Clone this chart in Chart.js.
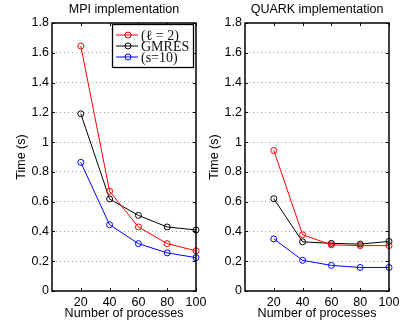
<!DOCTYPE html>
<html>
<head>
<meta charset="utf-8">
<script src="https://cdn.jsdelivr.net/npm/chart.js@4/dist/chart.umd.min.js"></script>
<style>
    body { margin: 0; background: #fff; }
    #wrap { position: relative; width: 406px; height: 326px; background: #fff; overflow: hidden; }
    canvas { position: absolute; top: 0; }
</style>
</head>
<body>
<div id="wrap">
    <canvas id="mpiChart" width="215" height="326" style="left:0px"></canvas>
    <canvas id="quarkChart" width="203" height="326" style="left:203px"></canvas>
</div>
<script>
const processes = [20, 40, 60, 80, 100];
const xTicks = [20, 40, 60, 80, 100];
const yTicks = [0, 0.2, 0.4, 0.6, 0.8, 1, 1.2, 1.4, 1.6, 1.8];
const seriesNames = ['(\u2113 = 2)', 'GMRES', '(s=10)'];
const seriesColors = ['#ff0000', '#000000', '#0000ff'];

const mpiRed = [1.645, 0.67, 0.43, 0.318, 0.27];
const mpiBlack = [1.19, 0.618, 0.508, 0.43, 0.41];
const mpiBlue = [0.864, 0.445, 0.318, 0.256, 0.224];

const quarkRed = [0.944, 0.378, 0.31, 0.305, 0.305];
const quarkBlack = [0.62, 0.33, 0.32, 0.315, 0.333];
const quarkBlue = [0.35, 0.206, 0.172, 0.158, 0.158];

const sans = 'Liberation Sans, Arial, sans-serif';
const serif = 'Liberation Serif, Times New Roman, serif';

function toPoints(vals) {
    return processes.map((p, i) => ({ x: p, y: vals[i] }))
}

// frame, inward ticks, titles, legend
const decorPlugin = {
    id: 'decor',
    afterDraw(chart, args, opts) {
        const ctx = chart.ctx
        const a = chart.chartArea
        const sx = chart.scales.x, sy = chart.scales.y
        ctx.save()
        ctx.strokeStyle = '#000'
        ctx.lineWidth = 1.5
        ctx.strokeRect(a.left, a.top, a.right - a.left, a.bottom - a.top)
        ctx.lineWidth = 1
        ctx.beginPath()
        xTicks.forEach(v => {
            let px = Math.round(sx.getPixelForValue(v)) + 0.5
            ctx.moveTo(px, a.bottom); ctx.lineTo(px, a.bottom - 3)
            ctx.moveTo(px, a.top); ctx.lineTo(px, a.top + 3)
        })
        yTicks.forEach(v => {
            let py = Math.round(sy.getPixelForValue(v)) + 0.5
            ctx.moveTo(a.left, py); ctx.lineTo(a.left + 3, py)
            ctx.moveTo(a.right, py); ctx.lineTo(a.right - 3, py)
        })
        ctx.stroke()

        ctx.fillStyle = '#000'
        ctx.font = '12.5px ' + sans
        ctx.textAlign = 'center'
        ctx.textBaseline = 'middle'
        let cx = (a.left + a.right) / 2
        ctx.fillText(opts.title, cx, 10)
        ctx.fillText('Number of processes', cx, 314)
        ctx.save()
        ctx.translate(a.left - 30, (a.top + a.bottom) / 2)
        ctx.rotate(-Math.PI / 2)
        ctx.fillText('Time (s)', 0, 0)
        ctx.restore()

        if (opts.legend) {
            let lx = a.right - 84, ly = a.top + 1, lw = 81, lh = 43
            ctx.fillStyle = '#fff'
            ctx.fillRect(lx, ly, lw, lh)
            ctx.lineWidth = 1.3
            ctx.strokeStyle = '#000'
            ctx.strokeRect(lx + 0.5, ly + 0.5, lw, lh)
            ctx.lineWidth = 1
            chart.data.datasets.forEach((ds, i) => {
                let y = ly + 11 + i * 11
                ctx.strokeStyle = ds.borderColor
                ctx.beginPath()
                ctx.moveTo(lx + 4, y); ctx.lineTo(lx + 26, y)
                ctx.stroke()
                ctx.beginPath()
                ctx.arc(lx + 16, y, 3, 0, Math.PI * 2)
                ctx.stroke()
                ctx.fillStyle = '#111'
                ctx.textAlign = 'left'
                ctx.font = '14px ' + serif
                ctx.fillText(ds.label, lx + 29, y + 1)
            })
        }
        ctx.restore()
    }
}

function makeChart(id, title, values, leftW, rightPad, legend) {
    return new Chart(document.getElementById(id), {
        type: 'line',
        data: {
            datasets: values.map((v, i) => ({
                label: seriesNames[i],
                data: toPoints(v),
                borderColor: seriesColors[i],
                borderWidth: 1,
                pointRadius: 3,
                pointBorderWidth: 1,
                pointBackgroundColor: 'rgba(0,0,0,0)',
                pointBorderColor: seriesColors[i],
                tension: 0,
                clip: false
            }))
        },
        options: {
            responsive: false,
            devicePixelRatio: 1,
            animation: false,
            layout: { padding: { left: 0, right: rightPad, top: 23, bottom: 0 } },
            plugins: {
                legend: { display: false },
                title: { display: false },
                tooltip: { enabled: false },
                decor: { title: title, legend: legend }
            },
            scales: {
                x: {
                    type: 'linear',
                    min: 0,
                    max: 100,
                    afterBuildTicks: s => { s.ticks = xTicks.map(v => ({ value: v })) },
                    afterFit: s => { s.height = 35 },
                    grid: { display: false, drawTicks: false },
                    border: { display: false },
                    ticks: { color: '#000', padding: 4, font: { family: sans, size: 12.5 }, maxRotation: 0 }
                },
                y: {
                    min: 0,
                    max: 1.8,
                    afterBuildTicks: s => { s.ticks = yTicks.map(v => ({ value: v })) },
                    afterFit: s => { s.width = leftW },
                    grid: {
                        color: c => (c.tick.value > 0 && c.tick.value < 1.8) ? '#a0a0a0' : 'rgba(0,0,0,0)',
                        drawTicks: false,
                        lineWidth: 1
                    },
                    border: { display: false, dash: [1, 3] },
                    ticks: {
                        color: '#000', padding: 3, font: { family: sans, size: 12.5 },
                        callback: v => String(Math.round(v * 10) / 10)
                    }
                }
            }
        },
        plugins: [decorPlugin]
    })
}

const mpiChart = makeChart('mpiChart', 'MPI implementation', [mpiRed, mpiBlack, mpiBlue], 52, 19, true)
const quarkChart = makeChart('quarkChart', 'QUARK implementation', [quarkRed, quarkBlack, quarkBlue], 42, 17, false)
</script>
</body>
</html>
